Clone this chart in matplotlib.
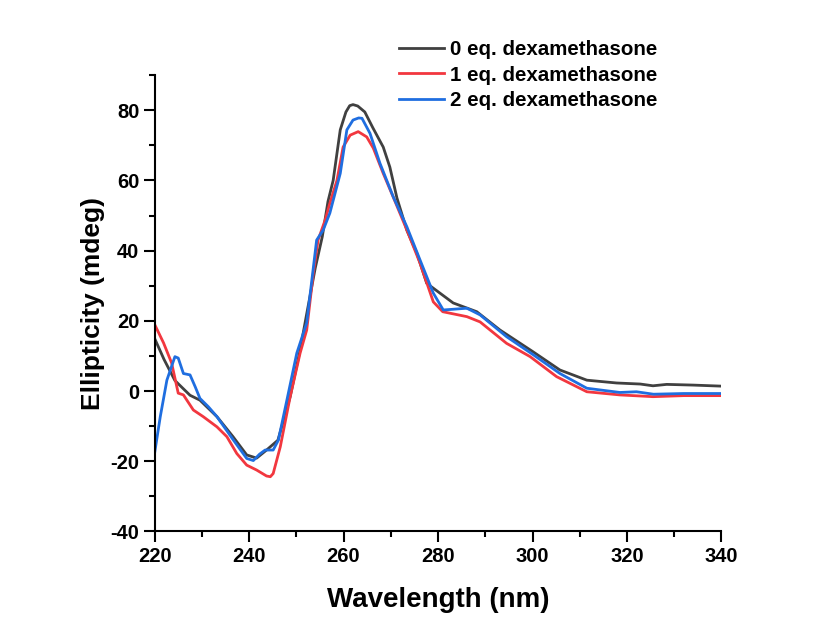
import matplotlib.pyplot as plt
from matplotlib.ticker import MultipleLocator

plt.rcParams['font.family'] = ['Liberation Sans', 'DejaVu Sans']
plt.rcParams['font.weight'] = 'bold'
plt.rcParams['axes.unicode_minus'] = False

# CD spectra, wavelength (nm) vs ellipticity (mdeg)
wl0 = [220, 222, 224.3, 227.5, 229.6, 233.2, 236.6, 239.5, 241.6, 243.7, 246.1,
       248.7, 250.8, 252.2, 254, 255.5, 256.7, 257.8, 259.3, 260.5, 261.3, 262,
       263, 264.5, 266.2, 268.4, 269.8, 271.3, 273.4, 275.5, 277.6, 280.4, 283.2,
       288.2, 293.1, 300.1, 305.8, 311.5, 317.8, 322.8, 325.5, 328.4, 334, 340]
ell0 = [15, 9, 3, -1.2, -2.6, -7.3, -13, -18.2, -19.1, -16.8, -14,
        -1.6, 11.7, 22, 35, 44, 54, 60, 74.4, 79.5, 81.3, 81.6,
        81.2, 79.5, 75, 69.5, 63.8, 55, 45.8, 39.3, 30.7, 27.9, 25.1,
        22.6, 17.4, 11.2, 6, 3.1, 2.3, 2.0, 1.5, 1.9, 1.7, 1.4]

wl1 = [220, 221.9, 223.6, 225, 226.1, 228.2, 230.3, 233.2, 235.3, 237.4, 239.5,
       241.6, 243.7, 244.5, 245.1, 246.6, 248.7, 250.8, 252.2, 253.6, 254.6, 256.1,
       257.1, 258.6, 259.9, 261.4, 263.1, 264.9, 266.3, 268.4, 270.5, 273.4, 276.2,
       279, 281, 286.1, 288.9, 294.5, 299.5, 305.1, 311.5, 318.5, 325.5, 332, 340]
ell1 = [19, 13.7, 8, -0.6, -1.1, -5.4, -7.3, -10.2, -13, -17.8, -21.1,
        -22.5, -24.2, -24.4, -23.5, -15.9, -1.6, 10.8, 17.4, 33.6, 43, 48.7,
        53.5, 60, 69.5, 72.9, 73.9, 72.4, 69.2, 62, 55.3, 45.9, 36.4,
        25.4, 22.6, 21.2, 19.7, 13.6, 9.8, 4.1, -0.2, -1.1, -1.6, -1.3, -1.3]

wl2 = [220, 221.2, 222.6, 224.3, 225, 226.1, 227.5, 228.6, 229.6, 231.4, 233.2,
       236.7, 239.5, 240.9, 242.2, 243.4, 245.1, 246.2, 248, 250.1, 252.2, 254.3,
       255.7, 257.1, 259.3, 260.7, 262, 263.2, 263.9, 265.6, 267.7, 270.5, 273.4,
       276.2, 279, 281.1, 283.2, 286.1, 288.9, 294.5, 300.2, 305.8, 311.5, 318.5,
       322, 325.6, 332, 340]
ell2 = [-17.7, -7.3, 3.1, 9.8, 9.4, 5, 4.6, 1.2, -2.1, -4.5, -7.3,
        -14, -19.2, -19.8, -18, -16.8, -16.8, -14, -2.6, 10.8, 19.4, 43,
        45.9, 50.7, 62, 74.4, 77.2, 77.8, 77.7, 73.4, 64.9, 55.4, 46.8,
        37.3, 27.9, 23.1, 23.3, 23.6, 21.7, 15.5, 10.3, 5, 0.8, -0.4,
        -0.2, -0.9, -0.7, -0.7]

labels = ['0 eq. dexamethasone', '1 eq. dexamethasone', '2 eq. dexamethasone']
colors = ['#404040', '#f2373f', '#1f6ee0']

fig = plt.figure(figsize=(8.18, 6.26), dpi=100)
ax = fig.add_axes([0.189, 0.151, 0.693, 0.729])

ax.plot(wl0, ell0, color=colors[0], lw=2, label=labels[0])
ax.plot(wl1, ell1, color=colors[1], lw=2, label=labels[1])
ax.plot(wl2, ell2, color=colors[2], lw=2, label=labels[2])

ax.set_xlim(220, 340)
ax.set_ylim(-40, 90)
ax.xaxis.set_major_locator(MultipleLocator(20))
ax.xaxis.set_minor_locator(MultipleLocator(10))
ax.yaxis.set_major_locator(MultipleLocator(20))
ax.yaxis.set_minor_locator(MultipleLocator(10))
ax.spines['top'].set_visible(False)
ax.spines['right'].set_visible(False)
for s in ('left', 'bottom'):
    ax.spines[s].set_linewidth(1.5)
ax.tick_params(which='major', length=8, width=1.5, labelsize=14.5, pad=3)
ax.tick_params(which='minor', length=4, width=1.5)
for t in ax.get_xticklabels() + ax.get_yticklabels():
    t.set_fontweight('bold')

ax.set_xlabel('Wavelength (nm)', fontsize=20, fontweight='bold', labelpad=15)
ax.set_ylabel('Ellipticity (mdeg)', fontsize=19, fontweight='bold', labelpad=4)

ax.legend(loc='upper left', bbox_to_anchor=(0.416, 1.094), frameon=False,
          prop={'size': 14.8, 'weight': 'bold'}, handlelength=2.2,
          handletextpad=0.3, labelspacing=0.3, borderaxespad=0)

fig.savefig('out.png', dpi=100)
